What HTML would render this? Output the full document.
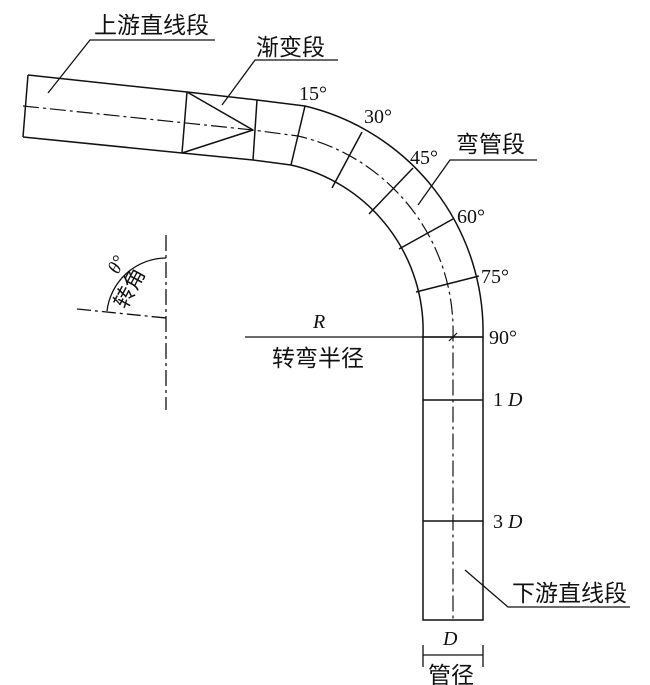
<!DOCTYPE html>
<html><head><meta charset="utf-8"><style>
body{margin:0;background:#fff}
svg{display:block}
text{font-family:"Liberation Serif","Noto Serif CJK SC",serif;fill:#111}
.c{font-family:"Liberation Sans","Noto Sans CJK SC",sans-serif}
</style></head><body>
<svg width="650" height="685" viewBox="0 0 650 685" xmlns="http://www.w3.org/2000/svg">
<g stroke="#111" stroke-width="1.5" fill="none">
<polyline points="28,75 187,92 257,100 305,106"/>
<polyline points="23,137 182,153 253,160 291,165"/>
<line x1="28" y1="75" x2="23" y2="137"/>
<line x1="187" y1="92" x2="182" y2="153"/>
<line x1="257" y1="100" x2="253" y2="160"/>
<line x1="305" y1="106" x2="291" y2="165"/>
<line x1="187" y1="92" x2="253" y2="130"/>
<line x1="182" y1="153" x2="253" y2="130"/>
<path d="M305,106 A232,232 0 0 1 483,337"/>
<path d="M291,165 A170,170 0 0 1 423,337"/>
<line x1="362" y1="132" x2="332" y2="188"/>
<line x1="413" y1="168" x2="369" y2="214"/>
<line x1="453" y1="219" x2="399" y2="249"/>
<line x1="479" y1="276" x2="416" y2="292"/>
<rect x="423" y="337" width="60" height="283"/>
<line x1="423" y1="400" x2="483" y2="400"/>
<line x1="423" y1="521" x2="483" y2="521"/>
<path d="M23,106 L253,130 L298,136 A200,200 0 0 1 453,337 L453,620" stroke-width="1.2" stroke-dasharray="16,4,3,4"/>
<line x1="245" y1="337" x2="483" y2="337" stroke-width="1.3"/>
<line x1="449" y1="341" x2="457" y2="333" stroke-width="1.2"/>
<polyline points="48,93 90,40 215,40" stroke-width="1.3"/>
<polyline points="222,105 255,60 338,60" stroke-width="1.3"/>
<polyline points="418,205 450,160 537,160" stroke-width="1.3"/>
<polyline points="465,570 508,607 630,607" stroke-width="1.3"/>
<line x1="423" y1="655" x2="483" y2="655" stroke-width="1.3"/>
<line x1="423" y1="645" x2="423" y2="667" stroke-width="1.3"/>
<line x1="483" y1="645" x2="483" y2="667" stroke-width="1.3"/>
<line x1="166" y1="235" x2="166" y2="410" stroke-width="1.3" stroke-dasharray="16,4,3,4"/>
<line x1="77" y1="309" x2="166" y2="318" stroke-width="1.3" stroke-dasharray="14,4,3,4"/>
<path d="M166,258 A60,60 0 0 0 107,311" stroke-width="1.3"/>
</g>
<g font-size="20">
<text x="94" y="33" class="c" font-size="23">上游直线段</text>
<text x="256" y="55" class="c" font-size="23">渐变段</text>
<text x="456" y="152" class="c" font-size="23">弯管段</text>
<text x="512" y="601" class="c" font-size="23">下游直线段</text>
<text x="272" y="366" class="c" font-size="23">转弯半径</text>
<text x="428" y="683" class="c" font-size="23">管径</text>
<text x="299" y="100">15°</text>
<text x="364" y="123">30°</text>
<text x="410" y="164">45°</text>
<text x="457" y="223">60°</text>
<text x="481" y="283">75°</text>
<text x="489" y="344">90°</text>
<text x="493" y="406">1 <tspan font-style="italic">D</tspan></text>
<text x="493" y="528">3 <tspan font-style="italic">D</tspan></text>
<text x="443" y="645" font-style="italic">D</text>
<text x="313" y="328" font-style="italic">R</text>
<text transform="translate(118,275) rotate(-62)" font-style="italic" font-size="19">θ°</text>
<text transform="translate(126,310) rotate(-62)" class="c" font-size="21">转角</text>
</g>
</svg>
</body></html>
